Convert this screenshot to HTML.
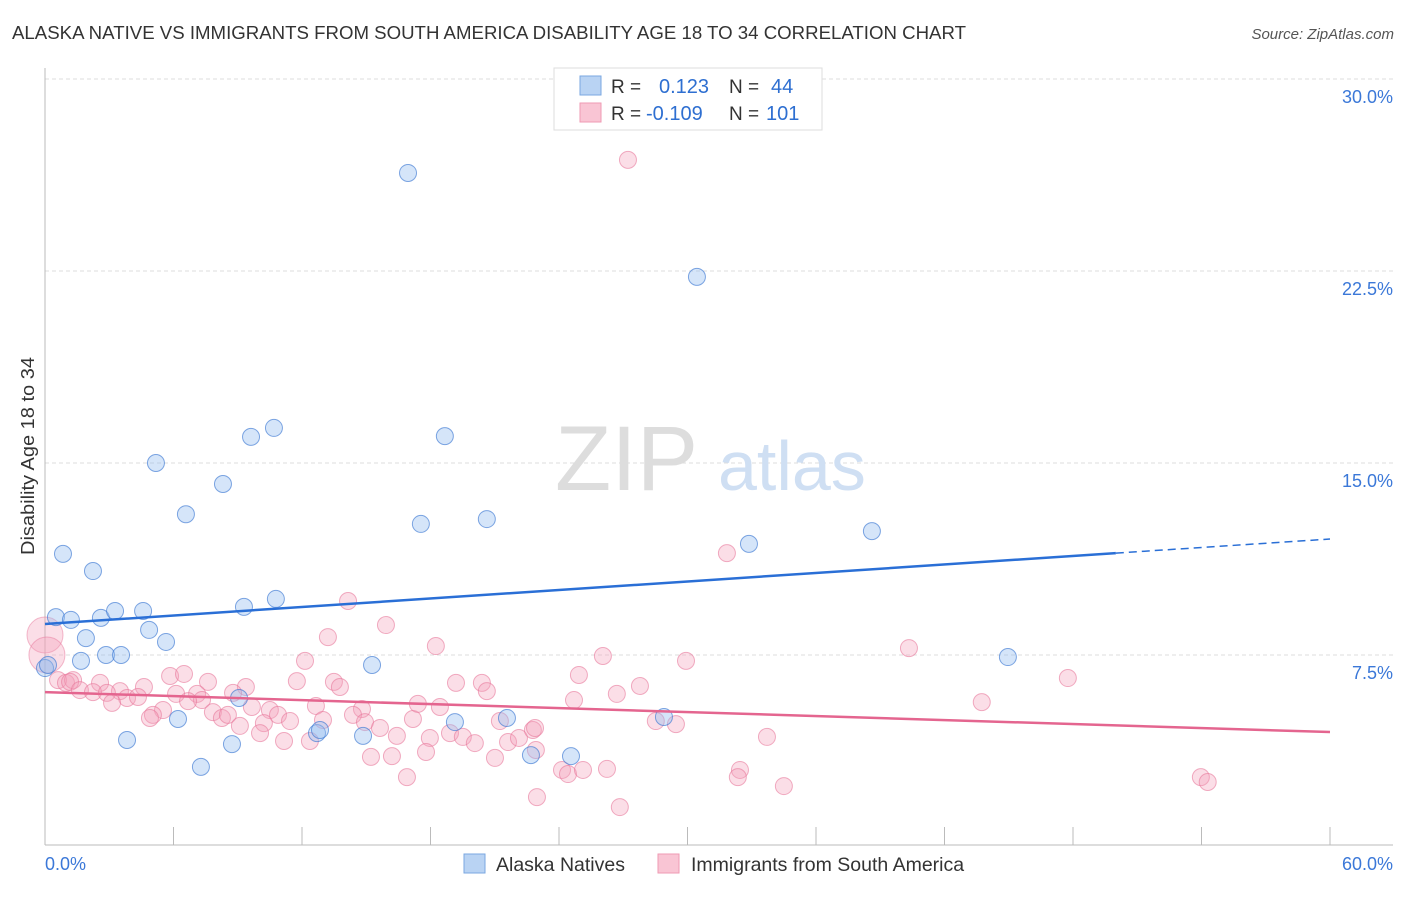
<!DOCTYPE html>
<html><head><meta charset="utf-8">
<style>
html,body{margin:0;padding:0;background:#fff;}
body{width:1406px;height:892px;overflow:hidden;font-family:"Liberation Sans",sans-serif;}
text{font-family:"Liberation Sans",sans-serif;}
</style></head>
<body>
<svg id="chart" width="1406" height="892" viewBox="0 0 1406 892" xmlns="http://www.w3.org/2000/svg">
<text x="12" y="39" font-size="18" fill="#333" textLength="954" lengthAdjust="spacingAndGlyphs">ALASKA NATIVE VS IMMIGRANTS FROM SOUTH AMERICA DISABILITY AGE 18 TO 34 CORRELATION CHART</text>
<text x="1394" y="39" font-size="15" fill="#555" font-style="italic" text-anchor="end">Source: ZipAtlas.com</text>
<g id="grid"></g>
<text x="555" y="490" font-size="92" fill="#ddd" font-family="Liberation Serif, serif">ZIP</text>
<text x="718" y="490" font-size="70" fill="#cfdff3">atlas</text>
<g id="axes"></g>
<g id="pinkPts"></g>
<g id="bluePts"></g>
<g id="lines"></g>
<text transform="translate(34,456) rotate(-90)" font-size="18" fill="#333" text-anchor="middle" textLength="198" lengthAdjust="spacingAndGlyphs">Disability Age 18 to 34</text>
<g>
<rect x="554" y="68" width="268" height="62" fill="#fff" stroke="#ddd"/>
<rect x="580" y="76" width="21" height="19" fill="#b9d3f3" stroke="#7aa7e0"/>
<rect x="580" y="103" width="21" height="19" fill="#f9c5d4" stroke="#ef9ab3"/>
<text x="611" y="93" font-size="19" fill="#333">R =</text>
<text x="659" y="93" font-size="20" fill="#2e6fd1">0.123</text>
<text x="729" y="93" font-size="19" fill="#333">N =</text>
<text x="771" y="93" font-size="20" fill="#2e6fd1">44</text>
<text x="611" y="120" font-size="19" fill="#333">R =</text>
<text x="646" y="120" font-size="20" fill="#2e6fd1">-0.109</text>
<text x="729" y="120" font-size="19" fill="#333">N =</text>
<text x="766" y="120" font-size="20" fill="#2e6fd1">101</text>
</g>
<g>
<rect x="464" y="854" width="21" height="19" fill="#b9d3f3" stroke="#7aa7e0"/>
<text x="496" y="871" font-size="19.5" fill="#333">Alaska Natives</text>
<rect x="658" y="854" width="21" height="19" fill="#f9c5d4" stroke="#ef9ab3"/>
<text x="691" y="871" font-size="19.5" fill="#333">Immigrants from South America</text>
</g>
</svg>
<script>
const yTicks=[7.5,15,22.5,30];
const yTickLabels=["7.5%","15.0%","22.5%","30.0%"];
const xTickLabels=["0.0%","60.0%"];
const blueX=[0.51,1.21,0.84,2.24,1.91,1.68,2.61,3.27,2.85,3.55,4.58,4.86,5.65,5.18,6.58,8.31,9.62,10.69,9.29,10.78,9.06,6.21,3.83,7.28,8.73,12.7,14.85,15.27,16.95,17.55,18.67,20.63,19.14,21.57,22.69,24.56,28.9,30.44,32.87,38.61,44.96,0,0.14,12.84];
const blueY=[8.98,8.87,11.45,10.78,8.16,7.27,8.95,9.22,7.5,7.5,9.22,8.48,8.01,15.0,13.0,14.18,16.02,16.37,9.38,9.69,5.82,5.0,4.18,3.13,4.02,4.45,4.34,7.11,26.33,12.62,16.05,12.81,4.88,5.04,3.59,3.55,5.08,22.27,11.84,12.34,7.42,6.99,7.11,4.57];
const pinkX=[0.61,0.98,1.31,14.15,15.92,13.21,18.25,12.14,11.76,13.49,13.77,19.19,20.4,20.63,5.84,6.49,7.61,9.38,8.78,6.12,7.1,7.33,6.68,4.62,3.5,2.57,1.17,1.63,2.24,2.89,3.83,4.34,3.13,5.51,5.04,4.9,7.84,8.26,8.54,9.1,9.66,10.5,10.88,11.44,10.22,10.04,11.16,12.37,12.65,12.98,14.8,14.38,14.94,15.64,16.43,15.22,16.2,16.9,17.18,17.41,18.44,17.97,17.79,18.91,19.51,20.07,21.01,21.24,21.62,22.13,22.78,22.97,27.22,31.84,26.05,24.93,27.78,26.7,24.7,29.93,28.52,29.46,24.14,24.42,25.12,26.24,26.84,33.71,32.45,32.35,34.5,40.34,47.76,43.74,53.97,54.29,22.88,22.92];
const pinkY=[6.52,6.41,6.52,9.61,8.67,8.2,7.85,7.27,6.48,6.45,6.25,6.41,6.41,6.09,6.68,6.76,6.45,6.25,6.02,5.98,5.98,5.74,5.7,6.25,6.09,6.41,6.45,6.13,6.05,6.02,5.82,5.86,5.63,5.35,5.16,5.04,5.27,5.04,5.16,4.73,5.47,5.35,5.16,4.92,4.84,4.45,4.14,4.14,5.51,4.96,5.39,5.16,4.88,4.65,4.34,3.52,3.55,2.73,5.0,5.59,5.47,4.26,3.71,4.45,4.3,4.06,3.48,4.92,4.1,4.26,4.57,1.95,26.84,11.48,7.46,6.72,6.29,5.98,5.74,7.27,4.92,4.8,3.01,2.85,3.01,3.05,1.56,4.3,3.01,2.73,2.38,7.77,6.6,5.66,2.73,2.54,4.65,3.79];
const pinkBigX=[0,0.09];
const pinkBigY=[8.28,7.5];
const blueTrend=[[0,8.71],[50,11.48],[60,12.03]];
const pinkTrend=[[0,6.05],[60,4.49]];

const NS="http://www.w3.org/2000/svg";
const X0=45,X1=1330,Y0=847,YT=79;
const sx=v=>X0+(X1-X0)*v/60;
const sy=v=>Y0-(Y0-YT)*v/30;
function mk(tag,attrs,parent){const e=document.createElementNS(NS,tag);for(const k in attrs)e.setAttribute(k,attrs[k]);parent.appendChild(e);return e;}
const grid=document.getElementById('grid');
yTicks.forEach((t,i)=>{
  const l=mk('line',{x1:X0,x2:1393,y1:sy(t),y2:sy(t),stroke:'#ddd','stroke-dasharray':'4,3'},grid);
  
  
  const tx=mk('text',{x:1393,y:sy(t)+24,'font-size':18,fill:'#3b78d8','text-anchor':'end'},grid);
  tx.textContent=yTickLabels[i];
  
  
});
const axes=document.getElementById('axes');
const ya=mk('line',{x1:X0,x2:X0,y1:68,y2:845,stroke:'#bbb'},axes);


const xa=mk('line',{x1:X0,x2:1393,y1:845,y2:845,stroke:'#bbb'},axes);


for(let i=0;i<=10;i++){
  const t=mk('line',{x1:sx(i*6),x2:sx(i*6),y1:827,y2:845,stroke:'#bbb'},axes);
  
  
}
const xl0=mk('text',{x:45,y:870,'font-size':18,fill:'#3b78d8'},axes);xl0.textContent=xTickLabels[0];


const xl1=mk('text',{x:1393,y:870,'font-size':18,fill:'#3b78d8','text-anchor':'end'},axes);xl1.textContent=xTickLabels[1];



const pg=document.getElementById('pinkPts');
pinkBigX.forEach((v,i)=>{
  const c=mk('circle',{cx:sx(v),cy:sy(pinkBigY[i]),r:18,fill:'rgba(244,160,185,0.35)',stroke:'rgba(232,120,155,0.5)'},pg);
  
  
});
pinkX.forEach((v,i)=>{
  const c=mk('circle',{cx:sx(v),cy:sy(pinkY[i]),r:8.5,fill:'rgba(244,160,185,0.35)',stroke:'rgba(232,120,155,0.6)'},pg);
  
  
});
const bg=document.getElementById('bluePts');
blueX.forEach((v,i)=>{
  const c=mk('circle',{cx:sx(v),cy:sy(blueY[i]),r:8.5,fill:'rgba(150,190,240,0.4)',stroke:'rgba(60,120,210,0.65)'},bg);
  
  
});
const lg=document.getElementById('lines');
const b1=mk('line',{x1:sx(blueTrend[0][0]),y1:sy(blueTrend[0][1]),x2:sx(blueTrend[1][0]),y2:sy(blueTrend[1][1]),stroke:'#2a6fd6','stroke-width':2.5},lg);


const b2=mk('line',{x1:sx(blueTrend[1][0]),y1:sy(blueTrend[1][1]),x2:sx(blueTrend[2][0]),y2:sy(blueTrend[2][1]),stroke:'#2a6fd6','stroke-width':1.5,'stroke-dasharray':'8,5'},lg);


const p1=mk('line',{x1:sx(pinkTrend[0][0]),y1:sy(pinkTrend[0][1]),x2:sx(pinkTrend[1][0]),y2:sy(pinkTrend[1][1]),stroke:'#e4658f','stroke-width':2.5},lg);


</script>
</body></html>
